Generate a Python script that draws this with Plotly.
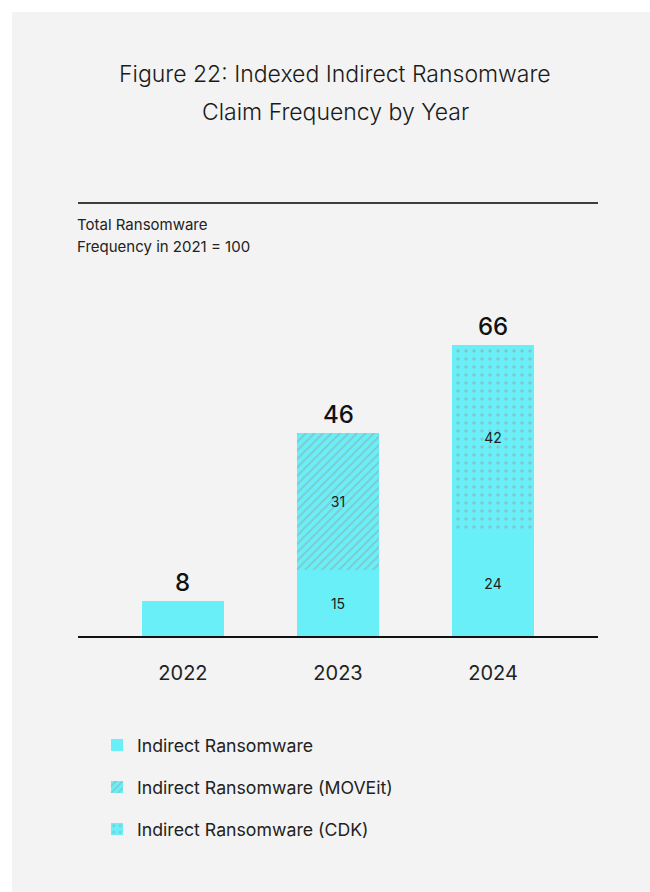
import plotly.graph_objects as go

years = ["2022", "2023", "2024"]
indirect = [8, 15, 24]
moveit = [0, 31, 0]
cdk = [0, 0, 42]
totals = [8, 46, 66]

CYAN = "#69eff7"
GRAY = "#9c9c9c"
FONT = "Inter"

W, H = 650, 892
L, R, T, B = 78, 52, 203, 256
pw, ph = W - L - R, H - T - B


def px(x):
    return (x - L) / pw


def py(y):
    return (H - B - y) / ph


fig = go.Figure()


def seg_text(vals):
    return [str(v) if v else "" for v in vals]


fig.add_trace(go.Bar(
    x=years, y=indirect, name="Indirect Ransomware",
    marker=dict(color=CYAN, line=dict(width=0)),
    text=["", "15", "24"], textposition="inside", insidetextanchor="middle",
    textfont=dict(size=14, color="#222", family=FONT),
    legendgroup="a", width=0.53,
))
fig.add_trace(go.Bar(
    x=years, y=moveit, name="Indirect Ransomware (MOVEit)",
    marker=dict(color=CYAN, line=dict(width=0),
                pattern=dict(shape="/", fgcolor=GRAY, bgcolor=CYAN, size=6, solidity=0.3, fillmode="overlay")),
    text=seg_text(moveit), textposition="inside", insidetextanchor="middle",
    textfont=dict(size=14, color="#222", family=FONT),
    legendgroup="b", width=0.53,
))
fig.add_trace(go.Bar(
    x=years, y=cdk, name="Indirect Ransomware (CDK)",
    marker=dict(color=CYAN, line=dict(width=0),
                pattern=dict(shape=".", fgcolor=GRAY, bgcolor=CYAN, size=8, solidity=0.14, fillmode="overlay")),
    text=seg_text(cdk), textposition="inside", insidetextanchor="middle",
    textfont=dict(size=14, color="#222", family=FONT),
    legendgroup="c", width=0.53,
))

for i, tot in enumerate(totals):
    fig.add_annotation(x=i, y=tot, xref="x", yref="y", text=str(tot), showarrow=False,
                       yanchor="bottom", yshift=2,
                       font=dict(size=24, color="#111", family=FONT, weight=500))

# background panel
fig.add_shape(type="rect", xref="paper", yref="paper",
              x0=px(12), x1=px(W + 5), y0=py(H + 5), y1=py(12),
              fillcolor="#f3f3f3", line=dict(width=0), layer="below")
# top rule
fig.add_shape(type="line", xref="paper", yref="paper",
              x0=0, x1=1, y0=1, y1=1, line=dict(color="#000", width=1.5))

for txt, yy in [("Figure 22: Indexed Indirect Ransomware", 74),
                ("Claim Frequency by Year", 112)]:
    fig.add_annotation(xref="paper", yref="paper", x=px(335), y=py(yy),
                       text=txt, showarrow=False, xanchor="center", yanchor="middle",
                       font=dict(size=23, color="#1a1a1a", family=FONT, weight=300))
for txt, yy in [("Total Ransomware", 225), ("Frequency in 2021 = 100", 246)]:
    fig.add_annotation(xref="paper", yref="paper", x=px(75), y=py(yy),
                       text=txt, showarrow=False, xanchor="left", yanchor="middle",
                       font=dict(size=15, color="#222", family=FONT))

fig.update_layout(
    width=W, height=H,
    margin=dict(l=L, r=R, t=T, b=B, pad=0),
    paper_bgcolor="white", plot_bgcolor="rgba(0,0,0,0)",
    barmode="stack", bargap=0,
    showlegend=True,
    legend=dict(x=px(97), y=py(727), xanchor="left", yanchor="top",
                traceorder="grouped", tracegroupgap=16,
                font=dict(size=17.7, color="#222", family=FONT),
                bgcolor="rgba(0,0,0,0)"),
    xaxis=dict(type="category", range=[-0.677, 2.677], showgrid=False, zeroline=False,
               showline=True, linecolor="#111", linewidth=1.5,
               ticks="", tickfont=dict(size=20, color="#222", family=FONT),
               ticklabelstandoff=18, fixedrange=True),
    yaxis=dict(range=[0, ph / 4.41], visible=False, fixedrange=True),
    font=dict(family=FONT),
)

fig.write_html("out.html")
